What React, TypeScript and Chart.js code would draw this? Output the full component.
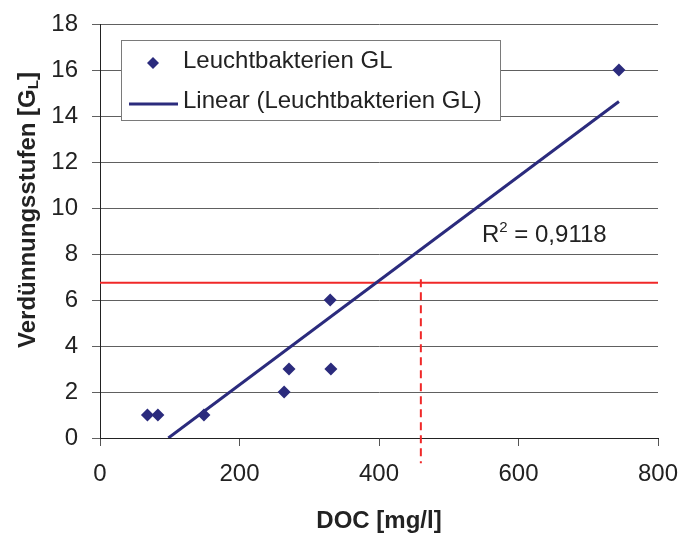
import React, { useEffect, useRef } from 'react';
import { Chart, registerables } from 'chart.js';

Chart.register(...registerables);

// ---- data ----
const docValues = [68, 83, 149, 264, 271, 331, 330, 744];
const dilutionLevels = [1, 1, 1, 2, 3, 3, 6, 16];
const trendX = [98, 744];
const trendY = [0, 14.63];
const thresholdY = 6.75;
const thresholdXRange = [0, 800];
const markerX = 460;
const markerYRange = [6.9, -1.1];
const xTickValues = [0, 200, 400, 600, 800];
const yTickValues = [0, 2, 4, 6, 8, 10, 12, 14, 16, 18];
const seriesLabel = 'Leuchtbakterien GL';
const trendLabel = 'Linear (Leuchtbakterien GL)';
const r2Main = '0,9118';
const xTitle = 'DOC [mg/l]';
const yTitleMain = 'Verdünnungsstufen [G';
const yTitleSub = 'L';
const yTitleEnd = ']';

const NAVY = '#2b2b7d';
const RED = '#f02828';
const FONT = '"Liberation Sans", Arial, sans-serif';

const overlayPlugin = {
  id: 'overlay',
  afterDraw(chart: any) {
    const ctx = chart.ctx as CanvasRenderingContext2D;
    const area = chart.chartArea;
    ctx.save();

    // Legend box
    const lx = 121, ly = 40, lw = 379, lh = 80;
    ctx.fillStyle = '#ffffff';
    ctx.fillRect(lx, ly, lw, lh);
    ctx.strokeStyle = '#7a7a7a';
    ctx.lineWidth = 1;
    ctx.strokeRect(lx + 0.5, ly + 0.5, lw, lh);

    // diamond marker
    ctx.fillStyle = NAVY;
    ctx.beginPath();
    const dx = 153, dy = 63, r = 6;
    ctx.moveTo(dx - r, dy);
    ctx.lineTo(dx, dy - r);
    ctx.lineTo(dx + r, dy);
    ctx.lineTo(dx, dy + r);
    ctx.closePath();
    ctx.fill();

    // line sample
    ctx.strokeStyle = NAVY;
    ctx.lineWidth = 3;
    ctx.beginPath();
    ctx.moveTo(129, 104);
    ctx.lineTo(178, 104);
    ctx.stroke();

    ctx.fillStyle = '#222';
    ctx.font = `24px ${FONT}`;
    ctx.textAlign = 'left';
    ctx.textBaseline = 'alphabetic';
    ctx.fillText(seriesLabel, 183, 68);
    ctx.fillText(trendLabel, 183, 108);

    // R² label
    let tx = 482;
    const tb = 242;
    ctx.font = `24px ${FONT}`;
    ctx.fillText('R', tx, tb);
    tx += ctx.measureText('R').width;
    ctx.font = `15px ${FONT}`;
    ctx.fillText('2', tx, tb - 10);
    tx += ctx.measureText('2').width;
    ctx.font = `24px ${FONT}`;
    ctx.fillText(' = ' + r2Main, tx, tb);

    // X axis title
    ctx.font = `bold 24px ${FONT}`;
    ctx.textAlign = 'center';
    ctx.fillText(xTitle, (area.left + area.right) / 2, 528);

    // Y axis title (rotated, with subscript)
    ctx.translate(35, 210);
    ctx.rotate(-Math.PI / 2);
    ctx.textAlign = 'left';
    const mainFont = `bold 24px ${FONT}`;
    const subFont = `bold 15px ${FONT}`;
    ctx.font = mainFont;
    const w1 = ctx.measureText(yTitleMain).width;
    const w3 = ctx.measureText(yTitleEnd).width;
    ctx.font = subFont;
    const w2 = ctx.measureText(yTitleSub).width;
    const total = w1 + w2 + w3;
    let px = -total / 2;
    ctx.font = mainFont;
    ctx.fillText(yTitleMain, px, 0);
    px += w1;
    ctx.font = subFont;
    ctx.fillText(yTitleSub, px, 3);
    px += w2;
    ctx.font = mainFont;
    ctx.fillText(yTitleEnd, px, 0);

    ctx.restore();
  },
};

const zeroPadding = (scale: any) => {
  scale.paddingLeft = 0;
  scale.paddingRight = 0;
  scale.paddingTop = 0;
  scale.paddingBottom = 0;
};

export default function App() {
  const canvasRef = useRef<HTMLCanvasElement | null>(null);

  useEffect(() => {
    document.body.style.margin = '0';
    const canvas = canvasRef.current;
    if (!canvas) return;

    const chart = new Chart(canvas, {
      type: 'scatter',
      data: {
        datasets: [
          {
            label: trendLabel,
            data: trendX.map((x, i) => ({ x, y: trendY[i] })),
            showLine: true,
            borderColor: NAVY,
            borderWidth: 3,
            pointRadius: 0,
            order: 2,
          },
          {
            label: 'threshold',
            data: thresholdXRange.map((x) => ({ x, y: thresholdY })),
            showLine: true,
            borderColor: RED,
            borderWidth: 2,
            pointRadius: 0,
            order: 3,
          },
          {
            label: 'marker',
            data: markerYRange.map((y) => ({ x: markerX, y })),
            showLine: true,
            borderColor: RED,
            borderWidth: 2,
            borderDash: [8, 5],
            pointRadius: 0,
            clip: false,
            order: 4,
          } as any,
          {
            label: seriesLabel,
            data: docValues.map((x, i) => ({ x, y: dilutionLevels[i] })),
            pointStyle: 'rectRot',
            pointRadius: 6.5,
            pointHoverRadius: 6.5,
            backgroundColor: NAVY,
            borderColor: NAVY,
            borderWidth: 0,
            order: 1,
          },
        ],
      },
      options: {
        responsive: false,
        animation: false,
        events: [],
        layout: { padding: { top: 24, right: 25, left: 0, bottom: 0 } },
        plugins: {
          legend: { display: false },
          tooltip: { enabled: false },
        },
        scales: {
          x: {
            type: 'linear',
            min: 0,
            max: 800,
            afterBuildTicks: (scale: any) => {
              scale.ticks = xTickValues.map((v) => ({ value: v }));
            },
            afterFit: (scale: any) => {
              scale.height = 95;
              zeroPadding(scale);
            },
            grid: {
              drawOnChartArea: false,
              drawTicks: true,
              tickLength: 8,
              color: '#555',
            },
            border: { color: '#222', width: 1 },
            ticks: {
              color: '#222',
              font: { size: 24, family: FONT },
              padding: 14,
              maxRotation: 0,
            },
          },
          y: {
            type: 'linear',
            min: 0,
            max: 18,
            afterBuildTicks: (scale: any) => {
              scale.ticks = yTickValues.map((v) => ({ value: v }));
            },
            afterFit: (scale: any) => {
              scale.width = 100;
              zeroPadding(scale);
            },
            grid: {
              drawTicks: true,
              tickLength: 8,
              color: '#606060',
            },
            border: { color: '#222', width: 1 },
            ticks: {
              color: '#222',
              font: { size: 24, family: FONT },
              padding: 14,
            },
          },
        },
      },
      plugins: [overlayPlugin],
    });

    return () => chart.destroy();
  }, []);

  return (
    <div style={{ width: 683, height: 533, overflow: 'hidden', background: '#fff' }}>
      <canvas ref={canvasRef} width={683} height={533} style={{ display: 'block' }} />
    </div>
  );
}
